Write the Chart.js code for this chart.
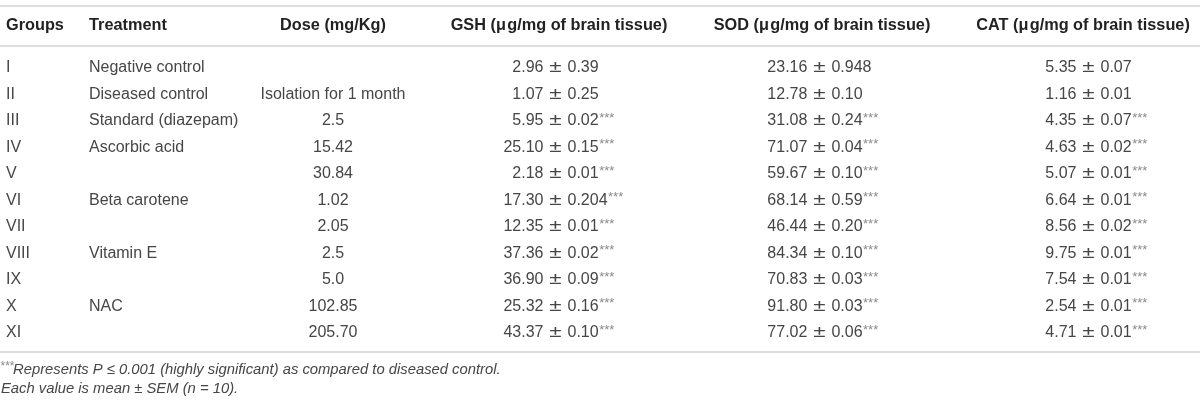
<!DOCTYPE html>
<html>
<head>
<meta charset="utf-8">
<script src="https://cdn.jsdelivr.net/npm/chart.js@4/dist/chart.umd.min.js"></script>
<style>
  html, body { margin: 0; padding: 0; background: #fff; }
  #wrap { width: 1200px; height: 405px; }
</style>
</head>
<body>
<div id="wrap"><canvas id="c" width="1200" height="405"></canvas></div>
<script>
// ---- DATA ----
const headers = ['Groups', 'Treatment', 'Dose (mg/Kg)', 'GSH (\u03bc\u200ag/mg of brain tissue)', 'SOD (\u03bc\u200ag/mg of brain tissue)', 'CAT (\u03bc\u200ag/mg of brain tissue)'];
const groups = ['I', 'II', 'III', 'IV', 'V', 'VI', 'VII', 'VIII', 'IX', 'X', 'XI'];
const treatments = ['Negative control', 'Diseased control', 'Standard (diazepam)', 'Ascorbic acid', '', 'Beta carotene', '', 'Vitamin E', '', 'NAC', ''];
const doses = ['', 'Isolation for 1 month', '2.5', '15.42', '30.84', '1.02', '2.05', '2.5', '5.0', '102.85', '205.70'];
const gshMean = ['2.96', '1.07', '5.95', '25.10', '2.18', '17.30', '12.35', '37.36', '36.90', '25.32', '43.37'];
const gshSem  = ['0.39', '0.25', '0.02', '0.15', '0.01', '0.204', '0.01', '0.02', '0.09', '0.16', '0.10'];
const sodMean = ['23.16', '12.78', '31.08', '71.07', '59.67', '68.14', '46.44', '84.34', '70.83', '91.80', '77.02'];
const sodSem  = ['0.948', '0.10', '0.24', '0.04', '0.10', '0.59', '0.20', '0.10', '0.03', '0.03', '0.06'];
const catMean = ['5.35', '1.16', '4.35', '4.63', '5.07', '6.64', '8.56', '9.75', '7.54', '2.54', '4.71'];
const catSem  = ['0.07', '0.01', '0.07', '0.02', '0.01', '0.01', '0.02', '0.01', '0.01', '0.01', '0.01'];
const significant = [false, false, true, true, true, true, true, true, true, true, true];
const footnote1 = 'Represents P \u2264 0.001 (highly significant) as compared to diseased control.';
const footnote2 = 'Each value is mean \u00b1 SEM (n = 10).';

// ---- LAYOUT (positions / styles) ----
const FONT = '"Liberation Sans", Arial, Helvetica, sans-serif';
const layout = {
  fs: 16,
  hfs: 16.3,
  ffs: 14.8,
  body: '#464646',
  head: '#222222',
  star: '#8a8a8a',
  rule: '#dddddd',
  pmGap: 1.4,
  pmStretch: 1.4,
  // x anchors on x scale
  groupsX: 6, treatX: 89, doseX: 333,
  headCenters: [null, null, 333, 559, 822, 1083],
  pmCenters: [555.5, 819.4, 1088.5],
  // y positions on row-index scale
  topRule: -2.34, headRow: -1.585, headRule: -0.83, bottomRule: 10.72, foot1: 11.4, foot2: 12.12
};

const rowIdx = groups.map((g, i) => i);

const tablePlugin = {
  id: 'tableText',
  afterDraw(chart) {
    const ctx = chart.ctx;
    const xs = chart.scales.x, ys = chart.scales.y;
    const X = v => xs.getPixelForValue(v);
    const Y = v => ys.getPixelForValue(v);
    const fs = layout.fs;
    ctx.save();
    ctx.textBaseline = 'middle';

    // rules
    ctx.strokeStyle = layout.rule;
    ctx.lineWidth = 2;
    [layout.topRule, layout.headRule, layout.bottomRule].forEach(r => {
      ctx.beginPath();
      ctx.moveTo(X(0), Math.round(Y(r)));
      ctx.lineTo(X(1200), Math.round(Y(r)));
      ctx.stroke();
    });

    // header
    ctx.fillStyle = layout.head;
    ctx.font = 'bold ' + layout.hfs + 'px ' + FONT;
    const hy = Y(layout.headRow);
    ctx.textAlign = 'left';
    ctx.fillText(headers[0], X(layout.groupsX), hy);
    ctx.fillText(headers[1], X(layout.treatX), hy);
    ctx.textAlign = 'center';
    for (let k = 2; k < headers.length; k++) ctx.fillText(headers[k], X(layout.headCenters[k]), hy);

    // body
    const normal = fs + 'px ' + FONT;
    const supFont = '13px ' + FONT;
    const cols = [[gshMean, gshSem], [sodMean, sodSem], [catMean, catSem]];
    rowIdx.forEach(i => {
      const y = Y(i);
      ctx.fillStyle = layout.body;
      ctx.font = normal;
      ctx.textAlign = 'left';
      ctx.fillText(groups[i], X(layout.groupsX), y);
      ctx.fillText(treatments[i], X(layout.treatX), y);
      ctx.textAlign = 'center';
      ctx.fillText(doses[i], X(layout.doseX), y);
      cols.forEach((pair, c) => {
        const cx = X(layout.pmCenters[c]);
        ctx.font = normal;
        ctx.fillStyle = layout.body;
        ctx.textAlign = 'center';
        ctx.save();
        ctx.translate(cx, y);
        ctx.scale(layout.pmStretch, 1);
        ctx.fillText('\u00b1', 0, 0);
        ctx.restore();
        const pmW = ctx.measureText('\u00b1').width * layout.pmStretch;
        const sp = ctx.measureText(' ').width + layout.pmGap;
        ctx.textAlign = 'right';
        ctx.fillText(pair[0][i], cx - pmW / 2 - sp, y);
        ctx.textAlign = 'left';
        const rx = cx + pmW / 2 + sp;
        ctx.fillText(pair[1][i], rx, y);
        if (significant[i]) {
          const w = ctx.measureText(pair[1][i]).width;
          ctx.font = supFont;
          ctx.fillStyle = layout.star;
          ctx.fillText('***', rx + w + 0.5, y - 3);
        }
      });
    });

    // footnotes
    ctx.textAlign = 'left';
    ctx.fillStyle = layout.star;
    ctx.font = '12px ' + FONT;
    ctx.fillText('***', X(0.5), Y(layout.foot1) - 3);
    ctx.fillStyle = layout.body;
    ctx.font = 'italic ' + layout.ffs + 'px ' + FONT;
    ctx.fillText(footnote1, X(13), Y(layout.foot1));
    ctx.fillText(footnote2, X(1), Y(layout.foot2));
    ctx.restore();
  }
};

new Chart(document.getElementById('c'), {
  type: 'scatter',
  data: {
    datasets: [{
      label: 'rows',
      data: rowIdx.map(i => ({ x: layout.groupsX, y: i })),
      pointRadius: 0,
      showLine: false
    }]
  },
  options: {
    responsive: false,
    animation: false,
    devicePixelRatio: 1,
    layout: { padding: 0 },
    plugins: { legend: { display: false }, tooltip: { enabled: false } },
    events: [],
    scales: {
      x: { type: 'linear', min: 0, max: 1200, display: false },
      y: { type: 'linear', reverse: true, min: -2.566, max: 12.717, display: false }
    }
  },
  plugins: [tablePlugin]
});
</script>
</body>
</html>
